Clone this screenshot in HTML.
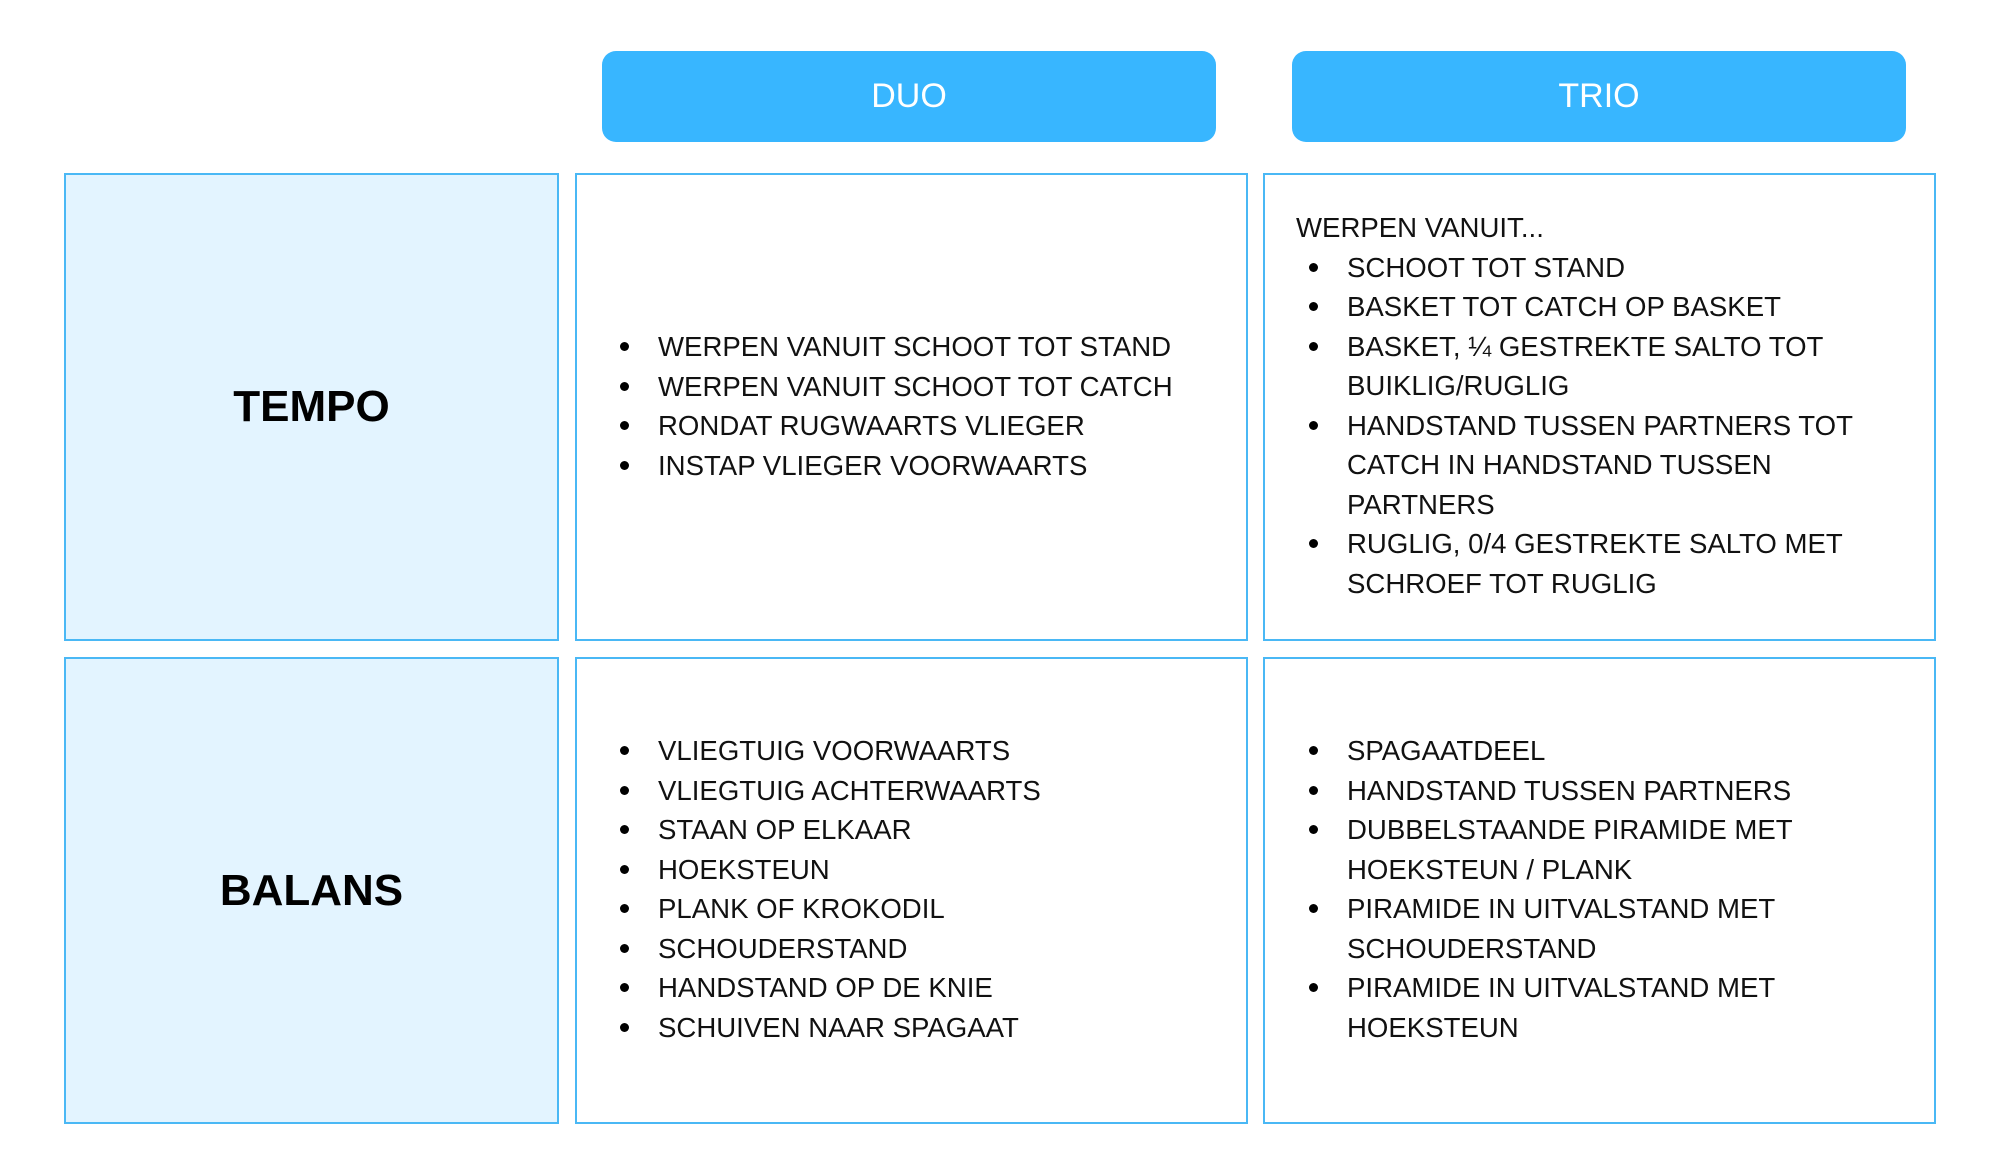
<!DOCTYPE html>
<html><head><meta charset="utf-8"><style>
body{margin:0;width:1999px;height:1176px;background:#fff;position:relative;overflow:hidden;font-family:"Liberation Sans",sans-serif;}
.b{position:absolute;box-sizing:border-box;border:2px solid #4ab8f5;}
.h{position:absolute;background:#38b6ff;border-radius:14px;color:#fff;font-size:34px;display:flex;align-items:center;justify-content:center;}
.lbl{position:absolute;display:flex;align-items:center;justify-content:center;font-weight:bold;font-size:44px;color:#000;}
.t{position:absolute;font-size:27.6px;line-height:39.5px;color:#111;white-space:nowrap;}
.t div{position:relative;padding-left:51px;}
.t div.bl::before{content:"";position:absolute;left:13px;top:15px;width:9px;height:9px;border-radius:50%;background:#000;}
</style></head><body>
<div class="h" style="left:602px;top:51px;width:614px;height:91px">DUO</div>
<div class="h" style="left:1292px;top:51px;width:614px;height:91px">TRIO</div>

<div class="b" style="left:64px;top:173px;width:495px;height:468px;background:#e3f4ff"></div>
<div class="b" style="left:575px;top:173px;width:673px;height:468px"></div>
<div class="b" style="left:1263px;top:173px;width:673px;height:468px"></div>
<div class="b" style="left:64px;top:657px;width:495px;height:467px;background:#e3f4ff"></div>
<div class="b" style="left:575px;top:657px;width:673px;height:467px"></div>
<div class="b" style="left:1263px;top:657px;width:673px;height:467px"></div>

<div class="lbl" style="left:64px;top:173px;width:495px;height:468px">TEMPO</div>
<div class="lbl" style="left:64px;top:657px;width:495px;height:467px">BALANS</div>

<div class="t" style="left:607px;top:327px">
<div class="bl">WERPEN VANUIT SCHOOT TOT STAND</div>
<div class="bl">WERPEN VANUIT SCHOOT TOT CATCH</div>
<div class="bl">RONDAT RUGWAARTS VLIEGER</div>
<div class="bl">INSTAP VLIEGER VOORWAARTS</div>
</div>

<div class="t" style="left:1296px;top:208px">
<div style="padding-left:0">WERPEN VANUIT...</div>
<div class="bl">SCHOOT TOT STAND</div>
<div class="bl">BASKET TOT CATCH OP BASKET</div>
<div class="bl">BASKET, ¼ GESTREKTE SALTO TOT</div>
<div>BUIKLIG/RUGLIG</div>
<div class="bl">HANDSTAND TUSSEN PARTNERS TOT</div>
<div>CATCH IN HANDSTAND TUSSEN</div>
<div>PARTNERS</div>
<div class="bl">RUGLIG, 0/4 GESTREKTE SALTO MET</div>
<div>SCHROEF TOT RUGLIG</div>
</div>

<div class="t" style="left:607px;top:731px">
<div class="bl">VLIEGTUIG VOORWAARTS</div>
<div class="bl">VLIEGTUIG ACHTERWAARTS</div>
<div class="bl">STAAN OP ELKAAR</div>
<div class="bl">HOEKSTEUN</div>
<div class="bl">PLANK OF KROKODIL</div>
<div class="bl">SCHOUDERSTAND</div>
<div class="bl">HANDSTAND OP DE KNIE</div>
<div class="bl">SCHUIVEN NAAR SPAGAAT</div>
</div>

<div class="t" style="left:1296px;top:731px">
<div class="bl">SPAGAATDEEL</div>
<div class="bl">HANDSTAND TUSSEN PARTNERS</div>
<div class="bl">DUBBELSTAANDE PIRAMIDE MET</div>
<div>HOEKSTEUN / PLANK</div>
<div class="bl">PIRAMIDE IN UITVALSTAND MET</div>
<div>SCHOUDERSTAND</div>
<div class="bl">PIRAMIDE IN UITVALSTAND MET</div>
<div>HOEKSTEUN</div>
</div>
</body></html>
